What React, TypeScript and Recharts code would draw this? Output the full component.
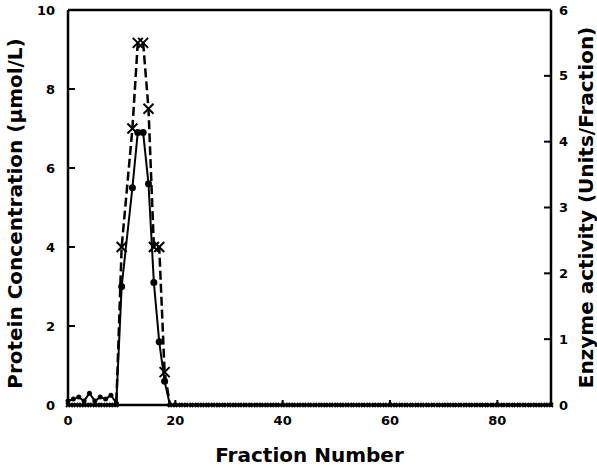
import React from "react";
import { LineChart, Line, XAxis, YAxis, ReferenceLine } from "recharts";

// fraction numbers 0..90
const fractions: number[] = Array.from({ length: 91 }, (_, i) => i);

// protein concentration (µmol/L), left axis
const proteinPeak: (number | null)[] = [
  0.1, 0.15, 0.2, 0.1, 0.3, 0.1, 0.2, 0.15, 0.25, 0.05,
  3.0, null, 5.5, 6.9, 6.9, 5.6, 3.1, 1.6, 0.6, 0,
];
// enzyme activity (Units/Fraction), right axis
const enzymePeak: (number | null)[] = [
  0, 0, 0, 0, 0, 0, 0, 0, 0, 0,
  2.4, null, 4.2, 5.5, 5.5, 4.5, 2.4, 2.4, 0.5, 0,
];
// fractions 20..90: both series at zero
const proteinTail: number[] = [
  0, 0, 0, 0, 0, 0, 0, 0, 0, 0,
  0, 0, 0, 0, 0, 0, 0, 0, 0, 0,
  0, 0, 0, 0, 0, 0, 0, 0, 0, 0,
  0, 0, 0, 0, 0, 0, 0, 0, 0, 0,
  0, 0, 0, 0, 0, 0, 0, 0, 0, 0,
  0, 0, 0, 0, 0, 0, 0, 0, 0, 0,
  0, 0, 0, 0, 0, 0, 0, 0, 0, 0,
  0,
];
const enzymeTail: number[] = [
  0, 0, 0, 0, 0, 0, 0, 0, 0, 0,
  0, 0, 0, 0, 0, 0, 0, 0, 0, 0,
  0, 0, 0, 0, 0, 0, 0, 0, 0, 0,
  0, 0, 0, 0, 0, 0, 0, 0, 0, 0,
  0, 0, 0, 0, 0, 0, 0, 0, 0, 0,
  0, 0, 0, 0, 0, 0, 0, 0, 0, 0,
  0, 0, 0, 0, 0, 0, 0, 0, 0, 0,
  0,
];

const xTicks = [0, 20, 40, 60, 80];
const leftTicks = [0, 2, 4, 6, 8, 10];
const rightTicks = [0, 1, 2, 3, 4, 5, 6];

const protein = [...proteinPeak, ...proteinTail];
const enzyme = [...enzymePeak, ...enzymeTail];
const data = fractions.map((f, i) => ({ fraction: f, protein: protein[i], enzyme: enzyme[i] }));

const FONT = "'DejaVu Sans', 'Liberation Sans', Arial, sans-serif";
const tickText = { fontFamily: FONT, fontWeight: 700, fontSize: 13, fill: "#000" };
const titleStyle = (size: number) => ({
  textAnchor: "middle" as const,
  fontFamily: FONT,
  fontWeight: 700,
  fontSize: size,
  fill: "#000",
});

const LeftTick = ({ x, y, payload }: any) => (
  <g>
    {payload.value > 0 && payload.value < 10 && (
      <line x1={x + 13} x2={x + 20} y1={y} y2={y} stroke="#000" strokeWidth={2} />
    )}
    <text x={x} y={y} dy="0.35em" textAnchor="end" {...tickText}>{payload.value}</text>
  </g>
);

const RightTick = ({ x, y, payload }: any) => (
  <g>
    {payload.value > 0 && payload.value < 6 && (
      <line x1={x - 8} x2={x - 15} y1={y} y2={y} stroke="#000" strokeWidth={2} />
    )}
    <text x={x} y={y} dy="0.35em" textAnchor="start" {...tickText}>{payload.value}</text>
  </g>
);

const BottomTick = ({ x, y, payload }: any) => (
  <g>
    {payload.value > 0 && (
      <line x1={x} x2={x} y1={y - 11} y2={y - 16} stroke="#000" strokeWidth={2} />
    )}
    <text x={x} y={y} dy="0.71em" textAnchor="middle" {...tickText}>{payload.value}</text>
  </g>
);

const CircleDot = ({ cx, cy, value }: any) => {
  if (value == null || cx == null) return <g />;
  return <circle cx={cx} cy={cy} r={value === 0 ? 1.5 : value < 0.5 ? 2.5 : 3.5} fill="#000" />;
};

const CrossDot = ({ cx, cy, value }: any) => {
  if (value == null || cx == null) return <g />;
  const s = value === 0 ? 2 : 5;
  return (
    <g stroke="#000" strokeWidth={2}>
      <line x1={cx - s} y1={cy - s} x2={cx + s} y2={cy + s} />
      <line x1={cx - s} y1={cy + s} x2={cx + s} y2={cy - s} />
    </g>
  );
};

export default function App() {
  return (
    <div style={{ position: "absolute", left: 0, top: 0, width: 597, height: 468, background: "#fff" }}>
      <LineChart width={597} height={468} data={data} margin={{ top: 10, right: 0, bottom: 0, left: 0 }}>
        <XAxis
          dataKey="fraction"
          type="number"
          domain={[0, 90]}
          ticks={xTicks}
          height={63}
          tickSize={0}
          tickMargin={11}
          axisLine={{ stroke: "#000", strokeWidth: 2.5 }}
          tick={<BottomTick />}
          label={{
            value: "Fraction Number",
            position: "insideBottom",
            offset: 6,
            style: titleStyle(20),
          }}
        />
        <YAxis
          yAxisId="left"
          domain={[0, 10]}
          ticks={leftTicks}
          width={68}
          tickSize={0}
          tickMargin={13}
          axisLine={{ stroke: "#000", strokeWidth: 2.5 }}
          tick={<LeftTick />}
          label={{
            value: "Protein Concentration (µmol/L)",
            angle: -90,
            position: "insideLeft",
            offset: 15,
            dy: 6,
            style: titleStyle(20),
          }}
        />
        <YAxis
          yAxisId="right"
          orientation="right"
          domain={[0, 6]}
          ticks={rightTicks}
          width={46}
          tickSize={0}
          tickMargin={8}
          axisLine={{ stroke: "#000", strokeWidth: 2.5 }}
          tick={<RightTick />}
          label={{
            value: "Enzyme activity (Units/Fraction)",
            angle: -90,
            position: "insideRight",
            offset: 11,
            style: titleStyle(20),
          }}
        />
        <ReferenceLine yAxisId="left" y={10} stroke="#000" strokeWidth={2.5} />
        <Line
          yAxisId="left"
          dataKey="protein"
          stroke="#000"
          strokeWidth={2}
          dot={<CircleDot />}
          connectNulls
          isAnimationActive={false}
        />
        <Line
          yAxisId="right"
          dataKey="enzyme"
          stroke="#000"
          strokeWidth={2.5}
          strokeDasharray="9 4"
          dot={<CrossDot />}
          connectNulls
          isAnimationActive={false}
        />
      </LineChart>
    </div>
  );
}
